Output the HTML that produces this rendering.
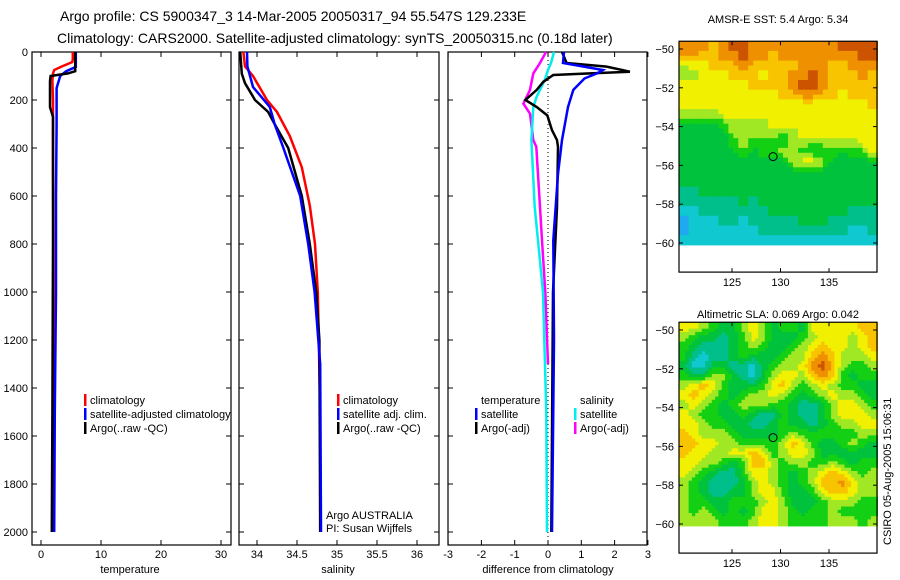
<!DOCTYPE html>
<html><head><meta charset="utf-8"><style>
body{margin:0;background:#fff;}
svg{display:block;font-family:"Liberation Sans",sans-serif;}
</style></head><body>
<svg id="c" width="900" height="580">
<text x="60" y="21" font-size="14">Argo profile: CS 5900347_3 14-Mar-2005 20050317_94 55.547S 129.233E</text>
<text x="57" y="43" font-size="14">Climatology: CARS2000. Satellite-adjusted climatology: synTS_20050315.nc (0.18d later)</text>
<text x="778" y="23" font-size="11" text-anchor="middle">AMSR-E SST: 5.4 Argo: 5.34</text>
<text x="778" y="318" font-size="11" text-anchor="middle">Altimetric SLA: 0.069 Argo: 0.042</text>
<text transform="translate(891,545) rotate(-90)" font-size="11">CSIRO 05-Aug-2005 15:06:31</text>
</svg>
<script>
// ---- data ----
const depthTicks=[0,200,400,600,800,1000,1200,1400,1600,1800,2000];
const tempTicks=[0,10,20,30];
const salTicks=[34,34.5,35,35.5,36];
const diffTicks=[-3,-2,-1,0,1,2,3];
const tClimD=[0,30,42,60,75,90,120,200,300,500,1000,1500,2000];
const tClimV=[5.3,5.3,5.2,3.5,2.2,2.0,1.9,2.0,2.0,2.0,2.1,2.1,2.0];
const tSatD=[0,62,80,100,150,300,600,1000,1500,2000];
const tSatV=[5.8,5.8,4.2,3.2,2.6,2.6,2.5,2.5,2.3,2.2];
const tArgoD=[0,80,89,100,120,230,270,400,800,1500,2000];
const tArgoV=[5.7,5.7,4.5,1.6,1.5,1.5,2.0,2.0,2.0,1.9,1.8];
const sClimD=[0,60,100,200,250,350,480,640,800,1000,1500,2000];
const sClimV=[33.83,33.85,33.95,34.125,34.25,34.41,34.56,34.66,34.725,34.76,34.79,34.79];
const sSatD=[0,60,146,229,300,400,600,800,1000,1300,2000];
const sSatV=[33.875,33.88,33.95,34.16,34.22,34.33,34.54,34.64,34.72,34.79,34.8];
const sArgoD=[0,90,130,200,250,300,400,600,800,1000,1200,2000];
const sArgoV=[33.79,33.81,33.85,33.975,34.14,34.22,34.39,34.56,34.66,34.74,34.78,34.79];
const dTSatD=[0,46,75,89,110,158,229,367,508,785,1200,2000];
const dTSatV=[0.48,0.45,1.65,1.47,1.1,0.76,0.6,0.42,0.3,0.16,0.18,0.12];
const dTArgoD=[0,46,61,82,89,96,124,158,200,229,264,326,367,395,646,1000,2000];
const dTArgoV=[0.42,0.56,1.76,2.46,1.26,0.16,-0.14,-0.34,-0.68,-0.34,-0.02,0.12,0.27,0.3,0.27,0.15,0.1];
const dSSatD=[0,46,75,117,186,229,367,646,785,1000,1500,2000];
const dSSatV=[0.18,0.09,0,-0.1,-0.34,-0.44,-0.5,-0.4,-0.3,-0.15,-0.05,-0.03];
const dSArgoD=[0,46,89,158,215,257,367,395,646,785,1000,1300];
const dSArgoV=[-0.06,-0.24,-0.44,-0.54,-0.74,-0.54,-0.44,-0.35,-0.24,-0.18,-0.08,0.0];
const lonTicks=[125,130,135];
const latTicks=[-50,-52,-54,-56,-58,-60];
const argoLon=129.233, argoLat=-55.547;
const sstRows=["88878998888888889999","88778898878888888899","56677787777788877888","55666777677889877787",
"66666667777899877777","66666666667788776777","66666666666666666667","55556666666666666666",
"33334555566666666666","33333555554566666666","33333454444554555566","33333343445544343446",
"33333333333566533333","33333333333333333333","33333333333333333333","22333333333333333333",
"22222232333333333333","11222222233333333222","01112212222233322222","01111111222222222112","11111111111111111111"];
const slaRows=["66543356534436666677","54332346533345666567","43222345433456766567","42122343334557875556",
"31133221345568975445","43355321356657874344","56764333467545654433","67654345565434565543",
"56543455544322356654","65443343224322356665","66544332234332345566","76555433334544444455",
"77665544445764334543","76655667645665333333","66554347754554454344","65432246654345676545",
"54322235654345778655","54322335664334677655","54433444565333455544","54543434665434454444","55554445665444455545"];
const palette=["#20a8f0","#10c8d0","#00bf8a","#00c23c","#14d014","#a0e824","#f0f000","#f8c400","#ee9000","#cc5400"];
// ---- helpers ----
const svg=document.getElementById('c');
const NS='http://www.w3.org/2000/svg';
function mk(tag,attrs,parent){const e=document.createElementNS(NS,tag);for(const k in attrs)e.setAttribute(k,attrs[k]);(parent||svg).appendChild(e);return e;}
function txt(x,y,s,size,anchor){const e=mk('text',{x:x,y:y,'font-size':size||11,'text-anchor':anchor||'start'});e.textContent=s;return e;}
const yTop=52, yBot=545;
const yD=d=>52+d*0.24;
const panels=[
 {x0:32,x1:231,fx:v=>41+v*6,ticks:tempTicks,label:'temperature',lx:130,name:'temperature-panel'},
 {x0:239,x1:439,fx:v=>257+(v-34)*80,ticks:salTicks,label:'salinity',lx:338,name:'salinity-panel'},
 {x0:448,x1:647,fx:v=>548+v*33.3,ticks:diffTicks,label:'difference from climatology',lx:548,name:'difference-panel'}];
panels.forEach((p,i)=>{
 const g=mk('g',{});
 
 
 const r=mk('rect',{x:p.x0,y:yTop,width:p.x1-p.x0,height:yBot-yTop,fill:'none',stroke:'#000','stroke-width':1.2},g);
 
 
 p.ticks.forEach(t=>{const x=p.fx(t);
  mk('line',{x1:x,x2:x,y1:yTop,y2:yTop+5,stroke:'#000'},g);mk('line',{x1:x,x2:x,y1:yBot,y2:yBot-5,stroke:'#000'},g);
  const l=txt(x,558,String(t),11,'middle');g.appendChild(l);
  
  });
 depthTicks.forEach(d=>{const y=yD(d);
  mk('line',{x1:p.x0,x2:p.x0+5,y1:y,y2:y,stroke:'#000'},g);mk('line',{x1:p.x1,x2:p.x1-5,y1:y,y2:y,stroke:'#000'},g);
  if(i==0){const l=txt(28,y+4,String(d),11,'end');g.appendChild(l);
   
   }});
 const al=txt(p.lx,573,p.label,11,'middle');g.appendChild(al);
 
 
});
function line(D,V,fx,color,name,w){
 const pts=D.map((d,k)=>fx(V[k]).toFixed(1)+','+yD(d).toFixed(1)).join(' ');
 const e=mk('polyline',{points:pts,fill:'none',stroke:color,'stroke-width':w||2.5,'stroke-linejoin':'miter'});
 
 
}
const P=panels;
line(tClimD,tClimV,P[0].fx,'#f00','temp-climatology-line');
line(tSatD,tSatV,P[0].fx,'#00f','temp-satellite-line');
line(tArgoD,tArgoV,P[0].fx,'#000','temp-argo-line');
line(sClimD,sClimV,P[1].fx,'#f00','sal-climatology-line');
line(sArgoD,sArgoV,P[1].fx,'#000','sal-argo-line');
line(sSatD,sSatV,P[1].fx,'#00f','sal-satellite-line');
const zl=mk('line',{x1:548,x2:548,y1:yTop,y2:yBot-8,stroke:'#000','stroke-dasharray':'1,3'});


line(dSArgoD,dSArgoV,P[2].fx,'#f0f','diff-sal-argo-line');
line(dSSatD,dSSatV,P[2].fx,'#0ee','diff-sal-satellite-line');
line(dTArgoD,dTArgoV,P[2].fx,'#000','diff-temp-argo-line');
line(dTSatD,dTSatV,P[2].fx,'#00f','diff-temp-satellite-line');
// legends
function leg(x,y,color,label,name){
 if(color){const b=mk('rect',{x:x-6,y:y-10,width:2.5,height:12,fill:color});
  
  }
 const t=txt(x,y,label,11);
 
 
}
leg(90,404,'#f00','climatology','legend-climatology');
leg(90,418,'#00f','satellite-adjusted climatology','legend-satellite-adjusted');
leg(90,432,'#000','Argo(..raw -QC)','legend-argo');
leg(343,404,'#f00','climatology','legend-sal-climatology');
leg(343,418,'#00f','satellite adj. clim.','legend-sal-satellite');
leg(343,432,'#000','Argo(..raw -QC)','legend-sal-argo');
leg(481,404,null,'temperature','legend-temperature-heading');
leg(481,418,'#00f','satellite','legend-diff-temp-satellite');
leg(481,432,'#000','Argo(-adj)','legend-diff-temp-argo');
leg(580,404,null,'salinity','legend-salinity-heading');
leg(580,418,'#0ee','satellite','legend-diff-sal-satellite');
leg(580,432,'#f0f','Argo(-adj)','legend-diff-sal-argo');
leg(326,519,null,'Argo AUSTRALIA','argo-australia-note');
leg(326,532,null,'PI: Susan Wijffels','pi-note');
// maps
const lonX=lon=>732+(lon-125)*9.7;
function map(rows,yOff,name,sub){
 const g=mk('g',{});
 
 
 const latY=lat=>yOff+(-50-lat)*19.4;
 const nr=rows.length, nc=rows[0].length, lonMin=119.5, lonStep=20.5/nc;
 const val=(r,c)=>+rows[Math.max(0,Math.min(nr-1,r))][Math.max(0,Math.min(nc-1,c))];
 const cw=lonStep*9.7/sub, ch=0.5*19.4/sub;
 for(let ri=0;ri<nr;ri++)for(let ci=0;ci<nc;ci++)for(let a=0;a<sub;a++)for(let b=0;b<sub;b++){
  const fr=ri+(a+0.5)/sub-0.5, fc=ci+(b+0.5)/sub-0.5;
  const r0=Math.floor(fr), c0=Math.floor(fc), tr=fr-r0, tc=fc-c0;
  const v=(1-tr)*((1-tc)*val(r0,c0)+tc*val(r0,c0+1))+tr*((1-tc)*val(r0+1,c0)+tc*val(r0+1,c0+1));
  const x=lonX(lonMin+ci*lonStep)+b*cw, y=latY(-49.6-ri*0.5)+a*ch;
  mk('rect',{x:x.toFixed(1),y:y.toFixed(1),width:(cw+0.5).toFixed(1),height:(ch+0.5).toFixed(1),fill:palette[Math.round(v)]},g);
 }
 const fy0=latY(-49.6),fy1=latY(-61.5);
 mk('rect',{x:679,y:fy0,width:198,height:fy1-fy0,fill:'none',stroke:'#000','stroke-width':1.2},g);
 lonTicks.forEach(l=>{const x=lonX(l);mk('line',{x1:x,x2:x,y1:fy0,y2:fy0+4,stroke:'#000'},g);mk('line',{x1:x,x2:x,y1:fy1,y2:fy1-4,stroke:'#000'},g);
  const t=txt(x,fy1+14,String(l),11,'middle');g.appendChild(t);
  
  });
 latTicks.forEach(l=>{const y=latY(l);mk('line',{x1:679,x2:683,y1:y,y2:y,stroke:'#000'},g);mk('line',{x1:877,x2:873,y1:y,y2:y,stroke:'#000'},g);
  const t=txt(674,y+4,String(l).replace('-','\u2212'),11,'end');g.appendChild(t);
  
  });
 const c=mk('circle',{cx:lonX(argoLon),cy:latY(argoLat),r:4,fill:'none',stroke:'#000','stroke-width':1},g);
 
 
}
map(sstRows,49,'sst-map',2);
map(slaRows,330,'sla-map',3);
</script>
</body></html>
